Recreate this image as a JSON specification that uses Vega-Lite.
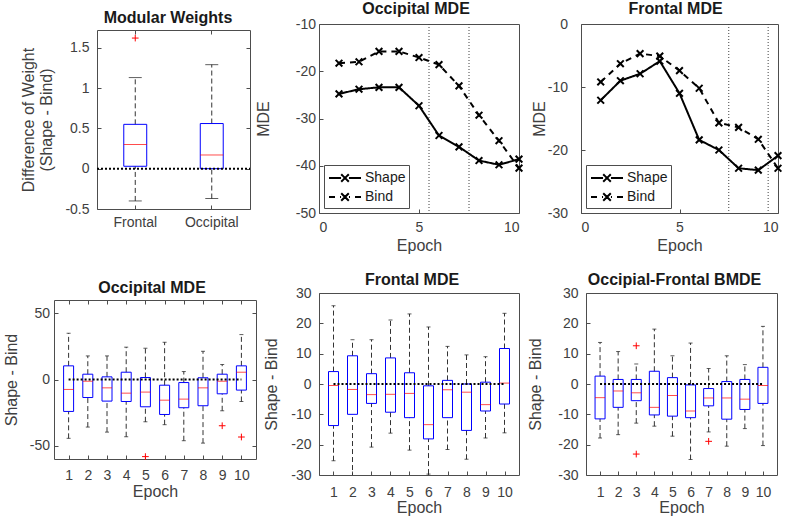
{
  "$schema": "https://vega.github.io/schema/vega-lite/v6.json",
  "padding": {"left": 1, "top": 0, "right": 0, "bottom": 0},
  "spacing": 17,
  "resolve": {"scale": {"strokeDash": "independent"}, "legend": {"strokeDash": "independent"}},
  "config": {
    "font": "Liberation Sans",
    "view": {"stroke": "#4d4d4d", "strokeWidth": 1},
    "axis": {"grid": false, "domain": false, "domainColor": "#4d4d4d", "labelFont": "Liberation Sans", "labelFontSize": 14, "labelColor": "#404040", "titleFont": "Liberation Sans", "titleFontSize": 16, "titleFontWeight": "normal", "titleColor": "#404040", "tickColor": "#4d4d4d", "tickSize": -4, "labelOverlap": false},
    "axisY": {"titleBaseline": "alphabetic"},
    "title": {"font": "Liberation Sans", "fontSize": 16, "fontWeight": "bold", "color": "#1a1a1a", "anchor": "middle", "baseline": "alphabetic", "frame": "group"},
    "legend": {"title": null, "orient": "bottom-left", "offset": 5, "labelFont": "Liberation Sans", "labelFontSize": 14, "labelColor": "#1a1a1a", "strokeColor": "#4d4d4d", "fillColor": "white", "padding": 3, "rowPadding": 1, "symbolType": "M-1.78,0H-0.44M1.78,0H0.44M0,0L0.42,0.42M0,0L-0.42,0.42M0,0L0.42,-0.42M0,0L-0.42,-0.42", "symbolSize": 324, "symbolStrokeWidth": 2, "symbolStrokeColor": "black", "symbolFillColor": "transparent", "symbolOffset": 8, "labelOffset": 10},
    "locale": {"number": {"decimal": ".", "thousands": ",", "grouping": [3], "currency": ["$", ""], "minus": "-"}}
  },
  "vconcat": [
    {
      "spacing": 3,
      "resolve": {"scale": {"strokeDash": "independent"}, "legend": {"strokeDash": "independent"}},
      "hconcat": [
        {
          "width": 196, "height": 185,
          "view": {"stroke": null},
          "title": {"text": "Modular Weights", "offset": -2, "dx": 16},
          "data": {"values": [
            {"region": "Frontal", "lower": -0.4, "q1": 0.03, "median": 0.3, "q3": 0.55, "upper": 1.13},
            {"region": "Occipital", "lower": -0.37, "q1": 0.0, "median": 0.17, "q3": 0.56, "upper": 1.29}
          ]},
          "resolve": {"axis": {"x": "independent", "y": "independent"}},
          "layer": [
            {"mark": {"type": "rule", "strokeDash": [5, 3], "color": "#333333", "strokeWidth": 1},
             "encoding": {
               "x": {"field": "region", "type": "nominal", "sort": ["Frontal", "Occipital"], "scale": {"domain": ["Frontal", "Occipital"], "range": [43, 196], "paddingInner": 0, "paddingOuter": 0}, "axis": {"orient": "bottom", "title": null, "labelAngle": 0, "labelPadding": 10, "domain": true}},
               "y": {"field": "lower", "type": "quantitative", "scale": {"domain": [-0.5, 1.72], "range": [185, 6], "nice": false, "zero": false}, "title": ["", "Difference of Weight", "(Shape - Bind)"], "axis": {"offset": -43, "domain": true, "values": [-0.5, 0, 0.5, 1, 1.5], "format": "~g", "titleX": -82, "titleLineHeight": 18, "labelPadding": 12, "labelOverlap": false}},
               "y2": {"field": "q1"}}},
            {"mark": {"type": "rule", "strokeDash": [5, 3], "color": "#333333", "strokeWidth": 1},
             "encoding": {
               "x": {"field": "region", "type": "nominal", "sort": ["Frontal", "Occipital"], "scale": {"domain": ["Frontal", "Occipital"], "range": [43, 196], "paddingInner": 0, "paddingOuter": 0}, "axis": {"orient": "top", "offset": -6, "labels": false, "title": null, "domain": true}},
               "y": {"field": "q3", "type": "quantitative", "scale": {"domain": [-0.5, 1.72], "range": [185, 6], "nice": false, "zero": false}, "axis": {"orient": "right", "labels": false, "title": null, "domain": true, "values": [-0.5, 0, 0.5, 1, 1.5]}},
               "y2": {"field": "upper"}}},
            {"mark": {"type": "tick", "orient": "horizontal", "size": 13, "thickness": 1, "color": "#1a1a1a"},
             "encoding": {
               "x": {"field": "region", "type": "nominal", "sort": ["Frontal", "Occipital"], "scale": {"domain": ["Frontal", "Occipital"], "range": [43, 196], "paddingInner": 0, "paddingOuter": 0}, "axis": null},
               "y": {"field": "lower", "type": "quantitative", "scale": {"domain": [-0.5, 1.72], "range": [185, 6], "nice": false, "zero": false}, "axis": null}}},
            {"mark": {"type": "tick", "orient": "horizontal", "size": 13, "thickness": 1, "color": "#1a1a1a"},
             "encoding": {
               "x": {"field": "region", "type": "nominal", "sort": ["Frontal", "Occipital"], "scale": {"domain": ["Frontal", "Occipital"], "range": [43, 196], "paddingInner": 0, "paddingOuter": 0}, "axis": null},
               "y": {"field": "upper", "type": "quantitative", "scale": {"domain": [-0.5, 1.72], "range": [185, 6], "nice": false, "zero": false}, "axis": null}}},
            {"mark": {"type": "bar", "orient": "vertical", "width": {"band": 0.3}, "fillOpacity": 0, "stroke": "#0000ff", "strokeWidth": 1},
             "encoding": {
               "x": {"field": "region", "type": "nominal", "sort": ["Frontal", "Occipital"], "scale": {"domain": ["Frontal", "Occipital"], "range": [43, 196], "paddingInner": 0, "paddingOuter": 0}, "axis": null},
               "y": {"field": "q1", "type": "quantitative", "scale": {"domain": [-0.5, 1.72], "range": [185, 6], "nice": false, "zero": false}, "axis": null},
               "y2": {"field": "q3"}}},
            {"mark": {"type": "tick", "orient": "horizontal", "size": 23, "thickness": 1, "color": "#ff0000"},
             "encoding": {
               "x": {"field": "region", "type": "nominal", "sort": ["Frontal", "Occipital"], "scale": {"domain": ["Frontal", "Occipital"], "range": [43, 196], "paddingInner": 0, "paddingOuter": 0}, "axis": null},
               "y": {"field": "median", "type": "quantitative", "scale": {"domain": [-0.5, 1.72], "range": [185, 6], "nice": false, "zero": false}, "axis": null}}},
            {"data": {"values": [{"region": "Frontal", "value": 1.62}]},
             "mark": {"type": "point", "shape": "M-1,0H1M0,-1V1", "size": 45, "filled": false, "stroke": "#ff0000", "strokeWidth": 1, "opacity": 1},
             "encoding": {
               "x": {"field": "region", "type": "nominal", "sort": ["Frontal", "Occipital"], "scale": {"domain": ["Frontal", "Occipital"], "range": [43, 196], "paddingInner": 0, "paddingOuter": 0}, "axis": null},
               "y": {"field": "value", "type": "quantitative", "scale": {"domain": [-0.5, 1.72], "range": [185, 6], "nice": false, "zero": false}, "axis": null}}},
            {"data": {"values": [{"ref": 0}]},
             "mark": {"type": "rule", "strokeDash": [2, 2], "color": "black", "strokeWidth": 2},
             "encoding": {
               "x": {"datum": "Frontal", "type": "nominal", "bandPosition": 0, "scale": {"domain": ["Frontal", "Occipital"], "range": [43, 196], "paddingInner": 0, "paddingOuter": 0}, "axis": null},
               "x2": {"datum": "Occipital", "bandPosition": 1},
               "y": {"field": "ref", "type": "quantitative", "scale": {"domain": [-0.5, 1.72], "range": [185, 6], "nice": false, "zero": false}, "axis": null}}}
          ]
        },
        {
          "width": 200, "height": 189,
          "title": {"text": "Occipital MDE", "offset": 0, "dx": -3},
          "encoding": {"x": {"field": "epoch", "type": "quantitative", "scale": {"domain": [0, 10], "nice": false, "zero": false}, "axis": {"values": [0, 5, 10], "title": "Epoch", "labelPadding": 11, "titlePadding": 3}}},
          "layer": [
            {"data": {"values": [{"epoch": 5.5}, {"epoch": 7.5}]},
             "mark": {"type": "rule", "strokeDash": [1, 2], "color": "#404040", "strokeWidth": 1},
             "encoding": {}},
            {"data": {"name": "occ"},
             "mark": {"type": "line", "color": "black", "strokeWidth": 2},
             "encoding": {"y": {"field": "mde", "type": "quantitative", "scale": {"domain": [-50, -10], "nice": false, "zero": false}, "title": "MDE", "axis": {"values": [-50, -40, -30, -20, -10], "titleX": -51, "labelPadding": 7.5, "labelOverlap": false}},
                          "strokeDash": {"field": "series", "type": "nominal", "scale": {"domain": ["Shape", "Bind"], "range": [[1, 0], [6, 5]]}}}},
            {"data": {"name": "occ"},
             "mark": {"type": "point", "shape": "M-1,-1L1,1M-1,1L1,-1", "size": 45, "filled": false, "stroke": "black", "strokeWidth": 2, "opacity": 1},
             "encoding": {"y": {"field": "mde", "type": "quantitative", "scale": {"domain": [-50, -10], "nice": false, "zero": false}, "title": "MDE", "axis": {"values": [-50, -40, -30, -20, -10], "titleX": -51, "labelPadding": 7.5, "labelOverlap": false}}}}
          ]
        },
        {
          "width": 197, "height": 189,
          "title": {"text": "Frontal MDE", "offset": 0, "dx": -4},
          "encoding": {"x": {"field": "epoch", "type": "quantitative", "scale": {"domain": [0, 10], "nice": false, "zero": false}, "axis": {"values": [0, 5, 10], "title": "Epoch", "labelPadding": 11, "titlePadding": 3}}},
          "layer": [
            {"data": {"values": [{"epoch": 7.5}, {"epoch": 9.5}]},
             "mark": {"type": "rule", "strokeDash": [1, 2], "color": "#404040", "strokeWidth": 1},
             "encoding": {}},
            {"data": {"name": "fro"},
             "mark": {"type": "line", "color": "black", "strokeWidth": 2},
             "encoding": {"y": {"field": "mde", "type": "quantitative", "scale": {"domain": [-30, 0], "nice": false, "zero": false}, "title": "MDE", "axis": {"values": [-30, -20, -10, 0], "titleX": -37, "labelPadding": 17.5, "labelOverlap": false}},
                          "strokeDash": {"field": "series", "type": "nominal", "scale": {"domain": ["Shape", "Bind"], "range": [[1, 0], [6, 5]]}}}},
            {"data": {"name": "fro"},
             "mark": {"type": "point", "shape": "M-1,-1L1,1M-1,1L1,-1", "size": 45, "filled": false, "stroke": "black", "strokeWidth": 2, "opacity": 1},
             "encoding": {"y": {"field": "mde", "type": "quantitative", "scale": {"domain": [-30, 0], "nice": false, "zero": false}, "title": "MDE", "axis": {"values": [-30, -20, -10, 0], "titleX": -37, "labelPadding": 17.5, "labelOverlap": false}}}}
          ]
        }
      ]
    },
    {
      "spacing": 6,
      "hconcat": [
        {
          "width": 202, "height": 166,
          "view": {"stroke": null},
          "title": {"text": "Occipital MDE", "offset": -3, "dx": -3},
          "data": {"name": "b_occ"},
          "resolve": {"axis": {"x": "independent", "y": "independent"}},
          "layer": [
            {"mark": {"type": "rule", "strokeDash": [5, 3], "color": "#333333", "strokeWidth": 1},
             "encoding": {
               "x": {"field": "epoch", "type": "quantitative", "scale": {"domain": [0.5, 10.5], "nice": false, "zero": false}, "axis": {"values": [1, 2, 3, 4, 5, 6, 7, 8, 9, 10], "title": "Epoch", "labelPadding": 13, "titlePadding": 1, "domain": true}},
               "y": {"field": "lower", "type": "quantitative", "scale": {"domain": [-60, 60], "range": [166, 7], "nice": false, "zero": false}, "title": "Shape - Bind", "axis": {"values": [-50, 0, 50], "titleX": -38, "labelPadding": 8.5, "labelOverlap": false, "domain": true}},
               "y2": {"field": "q1"}}},
            {"mark": {"type": "rule", "strokeDash": [5, 3], "color": "#333333", "strokeWidth": 1},
             "encoding": {
               "x": {"field": "epoch", "type": "quantitative", "scale": {"domain": [0.5, 10.5], "nice": false, "zero": false}, "axis": {"orient": "top", "offset": -7, "values": [1, 2, 3, 4, 5, 6, 7, 8, 9, 10], "labels": false, "title": null, "domain": true}},
               "y": {"field": "q3", "type": "quantitative", "scale": {"domain": [-60, 60], "range": [166, 7], "nice": false, "zero": false}, "axis": {"orient": "right", "values": [-50, 0, 50], "labels": false, "title": null, "domain": true}},
               "y2": {"field": "upper"}}},
            {"mark": {"type": "tick", "orient": "horizontal", "size": 4, "thickness": 1, "color": "#1a1a1a"},
             "encoding": {
               "x": {"field": "epoch", "type": "quantitative", "scale": {"domain": [0.5, 10.5], "nice": false, "zero": false}, "axis": null},
               "y": {"field": "lower", "type": "quantitative", "scale": {"domain": [-60, 60], "range": [166, 7], "nice": false, "zero": false}, "axis": null}}},
            {"mark": {"type": "tick", "orient": "horizontal", "size": 4, "thickness": 1, "color": "#1a1a1a"},
             "encoding": {
               "x": {"field": "epoch", "type": "quantitative", "scale": {"domain": [0.5, 10.5], "nice": false, "zero": false}, "axis": null},
               "y": {"field": "upper", "type": "quantitative", "scale": {"domain": [-60, 60], "range": [166, 7], "nice": false, "zero": false}, "axis": null}}},
            {"mark": {"type": "bar", "orient": "vertical", "size": 10, "fillOpacity": 0, "stroke": "#0000ff", "strokeWidth": 1},
             "encoding": {
               "x": {"field": "epoch", "type": "quantitative", "scale": {"domain": [0.5, 10.5], "nice": false, "zero": false}, "axis": null},
               "y": {"field": "q1", "type": "quantitative", "scale": {"domain": [-60, 60], "range": [166, 7], "nice": false, "zero": false}, "axis": null},
               "y2": {"field": "q3"}}},
            {"mark": {"type": "tick", "orient": "horizontal", "size": 10, "thickness": 1, "color": "#ff0000"},
             "encoding": {
               "x": {"field": "epoch", "type": "quantitative", "scale": {"domain": [0.5, 10.5], "nice": false, "zero": false}, "axis": null},
               "y": {"field": "median", "type": "quantitative", "scale": {"domain": [-60, 60], "range": [166, 7], "nice": false, "zero": false}, "axis": null}}},
            {"data": {"values": [{"epoch": 5, "value": -58.2}, {"epoch": 9, "value": -34.9}, {"epoch": 10, "value": -43.4}]},
             "mark": {"type": "point", "shape": "M-1,0H1M0,-1V1", "size": 45, "filled": false, "stroke": "#ff0000", "strokeWidth": 1, "opacity": 1},
             "encoding": {
               "x": {"field": "epoch", "type": "quantitative", "scale": {"domain": [0.5, 10.5], "nice": false, "zero": false}, "axis": null},
               "y": {"field": "value", "type": "quantitative", "scale": {"domain": [-60, 60], "range": [166, 7], "nice": false, "zero": false}, "axis": null}}},
            {"data": {"values": [{"epoch": 1, "end": 10, "ref": 0}]},
             "mark": {"type": "rule", "strokeDash": [2, 2], "color": "black", "strokeWidth": 2},
             "encoding": {
               "x": {"field": "epoch", "type": "quantitative", "scale": {"domain": [0.5, 10.5], "nice": false, "zero": false}, "axis": null},
               "x2": {"field": "end"},
               "y": {"field": "ref", "type": "quantitative", "scale": {"domain": [-60, 60], "range": [166, 7], "nice": false, "zero": false}, "axis": null}}}
          ]
        },
        {
          "width": 200, "height": 182,
          "title": {"text": "Frontal MDE", "offset": -2, "dx": -7},
          "data": {"name": "b_fro"},
          "encoding": {"x": {"field": "epoch", "type": "quantitative", "scale": {"domain": [0.5, 10.5], "nice": false, "zero": false}, "axis": {"values": [1, 2, 3, 4, 5, 6, 7, 8, 9, 10], "title": "Epoch", "labelPadding": 14, "titlePadding": 0}}},
          "layer": [
            {"mark": {"type": "rule", "strokeDash": [5, 3], "color": "#333333", "strokeWidth": 1, "clip": true},
             "encoding": {"y": {"field": "lower", "type": "quantitative", "scale": {"domain": [-30, 30], "nice": false, "zero": false}, "title": "Shape - Bind", "axis": {"values": [-30, -20, -10, 0, 10, 20, 30], "titleX": -42.5, "labelPadding": 12, "labelOverlap": false}}, "y2": {"field": "q1"}}},
            {"mark": {"type": "rule", "strokeDash": [5, 3], "color": "#333333", "strokeWidth": 1, "clip": true},
             "encoding": {"y": {"field": "q3", "type": "quantitative", "scale": {"domain": [-30, 30], "nice": false, "zero": false}, "title": "Shape - Bind", "axis": {"values": [-30, -20, -10, 0, 10, 20, 30], "titleX": -42.5, "labelPadding": 12, "labelOverlap": false}}, "y2": {"field": "upper"}}},
            {"mark": {"type": "tick", "orient": "horizontal", "size": 4, "thickness": 1, "color": "#1a1a1a", "clip": true},
             "encoding": {"y": {"field": "lower", "type": "quantitative", "scale": {"domain": [-30, 30], "nice": false, "zero": false}, "title": "Shape - Bind", "axis": {"values": [-30, -20, -10, 0, 10, 20, 30], "titleX": -42.5, "labelPadding": 12, "labelOverlap": false}}}},
            {"mark": {"type": "tick", "orient": "horizontal", "size": 4, "thickness": 1, "color": "#1a1a1a", "clip": true},
             "encoding": {"y": {"field": "upper", "type": "quantitative", "scale": {"domain": [-30, 30], "nice": false, "zero": false}, "title": "Shape - Bind", "axis": {"values": [-30, -20, -10, 0, 10, 20, 30], "titleX": -42.5, "labelPadding": 12, "labelOverlap": false}}}},
            {"mark": {"type": "bar", "orient": "vertical", "size": 10, "fillOpacity": 0, "stroke": "#0000ff", "strokeWidth": 1},
             "encoding": {"y": {"field": "q1", "type": "quantitative", "scale": {"domain": [-30, 30], "nice": false, "zero": false}, "title": "Shape - Bind", "axis": {"values": [-30, -20, -10, 0, 10, 20, 30], "titleX": -42.5, "labelPadding": 12, "labelOverlap": false}}, "y2": {"field": "q3"}}},
            {"mark": {"type": "tick", "orient": "horizontal", "size": 10, "thickness": 1, "color": "#ff0000"},
             "encoding": {"y": {"field": "median", "type": "quantitative", "scale": {"domain": [-30, 30], "nice": false, "zero": false}, "title": "Shape - Bind", "axis": {"values": [-30, -20, -10, 0, 10, 20, 30], "titleX": -42.5, "labelPadding": 12, "labelOverlap": false}}}},
            {"data": {"values": [{"epoch": 1, "end": 10, "ref": 0}]},
             "mark": {"type": "rule", "strokeDash": [2, 2], "color": "black", "strokeWidth": 2},
             "encoding": {"x2": {"field": "end"}, "y": {"field": "ref", "type": "quantitative", "scale": {"domain": [-30, 30], "nice": false, "zero": false}, "title": "Shape - Bind", "axis": {"values": [-30, -20, -10, 0, 10, 20, 30], "titleX": -42.5, "labelPadding": 12, "labelOverlap": false}}}}
          ]
        },
        {
          "width": 191, "height": 182,
          "title": {"text": "Occipial-Frontal BMDE", "offset": -2, "dx": -7},
          "data": {"name": "b_bm"},
          "encoding": {"x": {"field": "epoch", "type": "quantitative", "scale": {"domain": [0.5, 10.5], "nice": false, "zero": false}, "axis": {"values": [1, 2, 3, 4, 5, 6, 7, 8, 9, 10], "title": "Epoch", "labelPadding": 14, "titlePadding": 0}}},
          "layer": [
            {"mark": {"type": "rule", "strokeDash": [5, 3], "color": "#333333", "strokeWidth": 1},
             "encoding": {"y": {"field": "lower", "type": "quantitative", "scale": {"domain": [-30, 30], "nice": false, "zero": false}, "title": "Shape - Bind", "axis": {"values": [-30, -20, -10, 0, 10, 20, 30], "titleX": -46, "labelPadding": 12, "labelOverlap": false}}, "y2": {"field": "q1"}}},
            {"mark": {"type": "rule", "strokeDash": [5, 3], "color": "#333333", "strokeWidth": 1},
             "encoding": {"y": {"field": "q3", "type": "quantitative", "scale": {"domain": [-30, 30], "nice": false, "zero": false}, "title": "Shape - Bind", "axis": {"values": [-30, -20, -10, 0, 10, 20, 30], "titleX": -46, "labelPadding": 12, "labelOverlap": false}}, "y2": {"field": "upper"}}},
            {"mark": {"type": "tick", "orient": "horizontal", "size": 4, "thickness": 1, "color": "#1a1a1a"},
             "encoding": {"y": {"field": "lower", "type": "quantitative", "scale": {"domain": [-30, 30], "nice": false, "zero": false}, "title": "Shape - Bind", "axis": {"values": [-30, -20, -10, 0, 10, 20, 30], "titleX": -46, "labelPadding": 12, "labelOverlap": false}}}},
            {"mark": {"type": "tick", "orient": "horizontal", "size": 4, "thickness": 1, "color": "#1a1a1a"},
             "encoding": {"y": {"field": "upper", "type": "quantitative", "scale": {"domain": [-30, 30], "nice": false, "zero": false}, "title": "Shape - Bind", "axis": {"values": [-30, -20, -10, 0, 10, 20, 30], "titleX": -46, "labelPadding": 12, "labelOverlap": false}}}},
            {"mark": {"type": "bar", "orient": "vertical", "size": 10, "fillOpacity": 0, "stroke": "#0000ff", "strokeWidth": 1},
             "encoding": {"y": {"field": "q1", "type": "quantitative", "scale": {"domain": [-30, 30], "nice": false, "zero": false}, "title": "Shape - Bind", "axis": {"values": [-30, -20, -10, 0, 10, 20, 30], "titleX": -46, "labelPadding": 12, "labelOverlap": false}}, "y2": {"field": "q3"}}},
            {"mark": {"type": "tick", "orient": "horizontal", "size": 10, "thickness": 1, "color": "#ff0000"},
             "encoding": {"y": {"field": "median", "type": "quantitative", "scale": {"domain": [-30, 30], "nice": false, "zero": false}, "title": "Shape - Bind", "axis": {"values": [-30, -20, -10, 0, 10, 20, 30], "titleX": -46, "labelPadding": 12, "labelOverlap": false}}}},
            {"data": {"values": [{"epoch": 3, "value": 12.6}, {"epoch": 3, "value": -23.1}, {"epoch": 7, "value": -18.9}]},
             "mark": {"type": "point", "shape": "M-1,0H1M0,-1V1", "size": 45, "filled": false, "stroke": "#ff0000", "strokeWidth": 1, "opacity": 1},
             "encoding": {"y": {"field": "value", "type": "quantitative", "scale": {"domain": [-30, 30], "nice": false, "zero": false}, "title": "Shape - Bind", "axis": {"values": [-30, -20, -10, 0, 10, 20, 30], "titleX": -46, "labelPadding": 12, "labelOverlap": false}}}},
            {"data": {"values": [{"epoch": 1, "end": 10, "ref": 0}]},
             "mark": {"type": "rule", "strokeDash": [2, 2], "color": "black", "strokeWidth": 2},
             "encoding": {"x2": {"field": "end"}, "y": {"field": "ref", "type": "quantitative", "scale": {"domain": [-30, 30], "nice": false, "zero": false}, "title": "Shape - Bind", "axis": {"values": [-30, -20, -10, 0, 10, 20, 30], "titleX": -46, "labelPadding": 12, "labelOverlap": false}}}}
          ]
        }
      ]
    }
  ],
  "datasets": {
    "occ": [
      {"epoch": 1, "series": "Shape", "mde": -24.8}, {"epoch": 2, "series": "Shape", "mde": -23.8}, {"epoch": 3, "series": "Shape", "mde": -23.4}, {"epoch": 4, "series": "Shape", "mde": -23.4}, {"epoch": 5, "series": "Shape", "mde": -27.3},
      {"epoch": 6, "series": "Shape", "mde": -33.6}, {"epoch": 7, "series": "Shape", "mde": -36.0}, {"epoch": 8, "series": "Shape", "mde": -38.9}, {"epoch": 9, "series": "Shape", "mde": -39.8}, {"epoch": 10, "series": "Shape", "mde": -38.6},
      {"epoch": 1, "series": "Bind", "mde": -18.3}, {"epoch": 2, "series": "Bind", "mde": -18.0}, {"epoch": 3, "series": "Bind", "mde": -15.8}, {"epoch": 4, "series": "Bind", "mde": -15.8}, {"epoch": 5, "series": "Bind", "mde": -17.1},
      {"epoch": 6, "series": "Bind", "mde": -18.6}, {"epoch": 7, "series": "Bind", "mde": -23.1}, {"epoch": 8, "series": "Bind", "mde": -29.3}, {"epoch": 9, "series": "Bind", "mde": -34.7}, {"epoch": 10, "series": "Bind", "mde": -40.5}
    ],
    "fro": [
      {"epoch": 1, "series": "Shape", "mde": -12.1}, {"epoch": 2, "series": "Shape", "mde": -9.0}, {"epoch": 3, "series": "Shape", "mde": -7.9}, {"epoch": 4, "series": "Shape", "mde": -5.9}, {"epoch": 5, "series": "Shape", "mde": -11.0},
      {"epoch": 6, "series": "Shape", "mde": -18.4}, {"epoch": 7, "series": "Shape", "mde": -20.0}, {"epoch": 8, "series": "Shape", "mde": -22.9}, {"epoch": 9, "series": "Shape", "mde": -23.2}, {"epoch": 10, "series": "Shape", "mde": -20.9},
      {"epoch": 1, "series": "Bind", "mde": -9.2}, {"epoch": 2, "series": "Bind", "mde": -6.3}, {"epoch": 3, "series": "Bind", "mde": -4.7}, {"epoch": 4, "series": "Bind", "mde": -5.1}, {"epoch": 5, "series": "Bind", "mde": -7.4},
      {"epoch": 6, "series": "Bind", "mde": -10.2}, {"epoch": 7, "series": "Bind", "mde": -15.7}, {"epoch": 8, "series": "Bind", "mde": -16.4}, {"epoch": 9, "series": "Bind", "mde": -18.3}, {"epoch": 10, "series": "Bind", "mde": -22.9}
    ],
    "b_occ": [
      {"epoch": 1, "lower": -44.4, "q1": -24.1, "median": -7.5, "q3": 10.3, "upper": 34.9},
      {"epoch": 2, "lower": -35.9, "q1": -13.6, "median": -1.3, "q3": 4.0, "upper": 17.8},
      {"epoch": 3, "lower": -39.7, "q1": -16.3, "median": -6.3, "q3": 2.0, "upper": 17.8},
      {"epoch": 4, "lower": -43.2, "q1": -16.6, "median": -10.3, "q3": 5.5, "upper": 24.4},
      {"epoch": 5, "lower": -31.9, "q1": -20.6, "median": -9.5, "q3": 1.5, "upper": 23.6},
      {"epoch": 6, "lower": -34.1, "q1": -26.4, "median": -15.6, "q3": -4.3, "upper": 28.1},
      {"epoch": 7, "lower": -46.2, "q1": -21.3, "median": -14.8, "q3": -2.3, "upper": 6.0},
      {"epoch": 8, "lower": -48.0, "q1": -19.8, "median": -6.3, "q3": 1.3, "upper": 21.3},
      {"epoch": 9, "lower": -23.6, "q1": -10.8, "median": -1.3, "q3": 4.0, "upper": 11.3},
      {"epoch": 10, "lower": -16.6, "q1": -8.0, "median": 5.5, "q3": 10.3, "upper": 33.9}
    ],
    "b_fro": [
      {"epoch": 1, "lower": -25.3, "q1": -13.7, "median": -0.5, "q3": 4.1, "upper": 25.8},
      {"epoch": 2, "lower": -31.0, "q1": -10.0, "median": -1.8, "q3": 9.3, "upper": 14.6},
      {"epoch": 3, "lower": -20.8, "q1": -6.4, "median": -3.5, "q3": 3.4, "upper": 14.6},
      {"epoch": 4, "lower": -16.2, "q1": -9.3, "median": -3.4, "q3": 8.6, "upper": 21.1},
      {"epoch": 5, "lower": -21.8, "q1": -11.1, "median": -3.1, "q3": 3.7, "upper": 23.1},
      {"epoch": 6, "lower": -29.7, "q1": -18.1, "median": -13.4, "q3": -0.6, "upper": 18.8},
      {"epoch": 7, "lower": -21.6, "q1": -11.1, "median": -1.9, "q3": 1.2, "upper": 12.4},
      {"epoch": 8, "lower": -24.8, "q1": -15.3, "median": -2.7, "q3": 0.0, "upper": 9.6},
      {"epoch": 9, "lower": -17.8, "q1": -8.9, "median": -6.8, "q3": 0.6, "upper": 9.0},
      {"epoch": 10, "lower": -16.1, "q1": -6.6, "median": 0.3, "q3": 11.7, "upper": 23.3}
    ],
    "b_bm": [
      {"epoch": 1, "lower": -17.8, "q1": -11.5, "median": -4.5, "q3": 2.6, "upper": 13.7},
      {"epoch": 2, "lower": -16.7, "q1": -7.7, "median": -2.3, "q3": 1.5, "upper": 10.7},
      {"epoch": 3, "lower": -12.9, "q1": -5.5, "median": -2.9, "q3": 1.5, "upper": 6.6},
      {"epoch": 4, "lower": -13.9, "q1": -10.2, "median": -7.7, "q3": 4.2, "upper": 18.1},
      {"epoch": 5, "lower": -17.2, "q1": -10.6, "median": -3.8, "q3": 2.1, "upper": 9.3},
      {"epoch": 6, "lower": -24.9, "q1": -11.1, "median": -8.9, "q3": -0.3, "upper": 13.5},
      {"epoch": 7, "lower": -15.8, "q1": -7.2, "median": -4.6, "q3": -1.5, "upper": 5.1},
      {"epoch": 8, "lower": -20.5, "q1": -11.6, "median": -4.6, "q3": 0.8, "upper": 9.3},
      {"epoch": 9, "lower": -14.7, "q1": -8.4, "median": -5.0, "q3": 1.5, "upper": 6.4},
      {"epoch": 10, "lower": -20.3, "q1": -6.4, "median": -0.5, "q3": 5.5, "upper": 19.0}
    ]
  }
}
